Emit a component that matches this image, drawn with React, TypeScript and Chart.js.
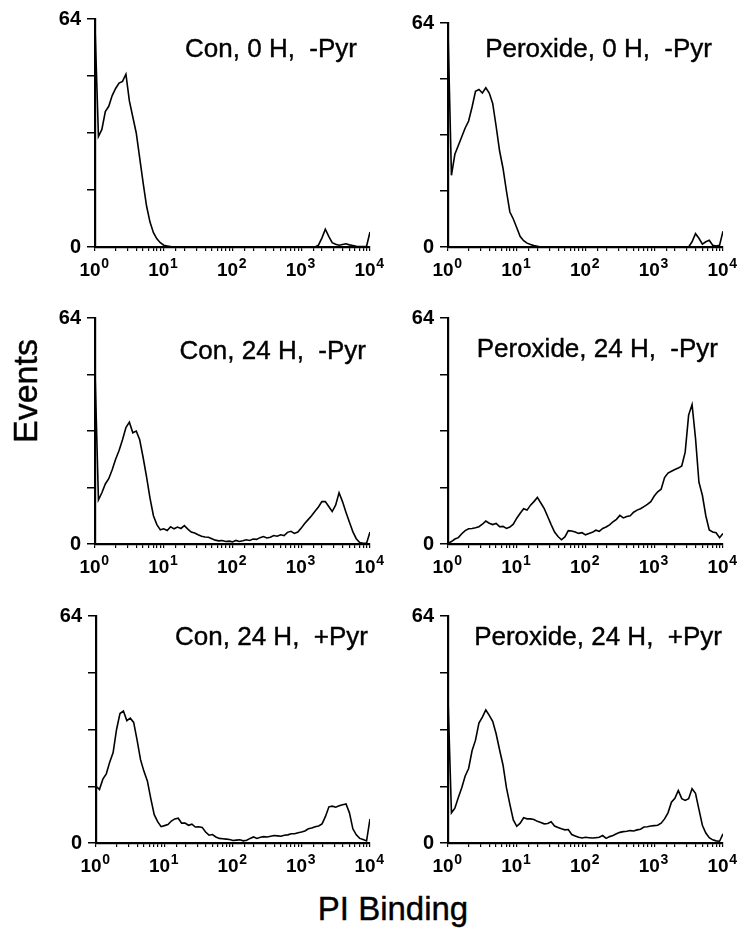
import React, { useEffect, useRef } from 'react';
import { Chart, registerables } from 'chart.js';

Chart.register(...registerables);

// PI fluorescence channels (log scale, 20 channels per decade)
const channels = [
  1, 1.122, 1.259, 1.413, 1.585, 1.778, 1.995, 2.239, 2.512, 2.818, 3.162, 3.548, 3.981, 4.467, 5.012, 5.623, 6.31, 7.079, 7.943, 8.913,
  10, 11.22, 12.59, 14.13, 15.85, 17.78, 19.95, 22.39, 25.12, 28.18, 31.62, 35.48, 39.81, 44.67, 50.12, 56.23, 63.1, 70.79, 79.43, 89.13,
  100, 112.2, 125.9, 141.3, 158.5, 177.8, 199.5, 223.9, 251.2, 281.8, 316.2, 354.8, 398.1, 446.7, 501.2, 562.3, 631, 707.9, 794.3, 891.3,
  1000, 1122, 1259, 1413, 1585, 1778, 1995, 2239, 2512, 2818, 3162, 3548, 3981, 4467, 5012, 5623, 6310, 7079, 7943, 8913,
  10000,
];

const xTickExponents = [0, 1, 2, 3, 4];
const yTickLabels = [0, 64];

const panelTitles = [
  'Con, 0 H,  -Pyr',
  'Peroxide, 0 H,  -Pyr',
  'Con, 24 H,  -Pyr',
  'Peroxide, 24 H,  -Pyr',
  'Con, 24 H,  +Pyr',
  'Peroxide, 24 H,  +Pyr',
];

const con0hMinusPyr = [
  62, 31, 33, 38, 39.5, 42.5, 44.5, 46, 46.5, 48.5, 41, 36.5, 32, 25, 18, 11.5, 7, 4, 2.3, 1.2,
  0.5, 0.3, 0.1, 0, 0, 0, 0, 0, 0, 0, 0, 0, 0, 0, 0, 0, 0, 0, 0, 0,
  0, 0, 0, 0, 0, 0, 0, 0, 0, 0, 0, 0, 0, 0, 0, 0, 0, 0, 0, 0,
  0, 0, 0, 0, 0, 0.5, 2.5, 5, 3, 1.2, 0.8, 0.5, 0.7, 0.9, 0.6, 0.4, 0.2, 0.1, 0.1, 0.2,
  4.2,
];

const perox0hMinusPyr = [
  62, 20.5, 26.5, 29, 31.5, 34, 36, 40, 44.5, 45, 44, 45.5, 44, 41, 34.5, 27.5, 22.5, 16, 10, 8,
  5.5, 3, 1.8, 1.1, 0.7, 0.4, 0.2, 0, 0, 0, 0, 0, 0, 0, 0, 0, 0, 0, 0, 0,
  0, 0, 0, 0, 0, 0, 0, 0, 0, 0, 0, 0, 0, 0, 0, 0, 0, 0, 0, 0,
  0, 0, 0, 0, 0, 0, 0, 0, 0, 0, 0, 1.5, 3.8, 2.5, 0.8, 1.5, 1.9, 0.5, 0.3, 0.5,
  4.5,
];

const con24hMinusPyr = [
  49, 12.5, 14.5, 17, 18.5, 21, 24, 26.5, 29.5, 33, 34.5, 31.5, 32, 29.5, 24.5, 19, 13, 8, 5.5, 4,
  4.3, 3.8, 4.9, 4.3, 4.8, 4.4, 5.2, 4.2, 3.4, 3.1, 2.6, 2.2, 2.0, 1.9, 1.5, 1.1, 0.9, 1.0, 0.7, 0.8,
  0.6, 1.0, 0.7, 0.9, 1.2, 1.0, 1.4, 1.3, 1.8, 2.1, 1.7, 1.9, 2.4, 2.2, 2.6, 2.4, 3.3, 3.6, 3.0, 3.4,
  4.5, 5.8, 6.9, 8.0, 9.3, 10.5, 12.0, 12.0, 10.6, 9.2, 11.0, 14.5, 12.0, 9.0, 6.2, 3.5, 1.5, 0.4, 0.2, 0.2,
  3.4,
];

const perox24hMinusPyr = [
  0.2, 0.7, 1.4, 1.8, 2.9, 3.8, 4.3, 4.4, 4.6, 4.9, 5.6, 6.5, 5.9, 5.5, 5.8, 4.9, 5.0, 4.4, 4.8, 5.6,
  7.3, 8.7, 10.0, 9.6, 11.0, 12.0, 13.2, 11.6, 10.0, 7.8, 5.5, 3.4, 2.1, 1.2, 2.0, 3.8, 3.7, 3.4, 3.0, 3.2,
  2.6, 3.0, 3.3, 3.9, 3.6, 4.4, 4.8, 5.4, 6.3, 7.0, 8.1, 7.4, 7.8, 8.0, 9.0, 9.6, 10.0, 10.6, 11.2, 12.0,
  13.6, 14.8, 15.5, 18.8, 20.1, 20.6, 21.1, 21.5, 22.1, 26, 36.5, 39.5, 30, 17.5, 13.8, 8, 4, 3.4, 3.2, 1.8,
  3,
];

const con24hPlusPyr = [
  16, 15.1, 18, 19.5, 22.8, 25.5, 32, 36.5, 37.2, 34.5, 35.2, 34.0, 29, 23.5, 20.2, 17.5, 12.5, 8, 6, 4.6,
  4.9, 5.2, 6.2, 6.8, 7.0, 5.6, 5.6, 5.0, 5.3, 4.5, 4.6, 4.4, 3.1, 2.2, 2.4, 1.7, 1.3, 1.2, 1.1, 1.0,
  0.7, 0.8, 0.9, 0.6, 0.8, 1.3, 1.7, 1.3, 1.6, 1.8, 1.7, 1.9, 2.1, 2.0, 1.9, 2.2, 2.3, 2.6, 2.6, 2.9,
  3.1, 3.4, 4.0, 4.2, 4.6, 4.8, 5.4, 7.5, 10.2, 10.4, 10.1, 10.5, 10.8, 11.0, 8.5, 4.0, 2.3, 1.3, 1.0, 0.6,
  6.8,
];

const perox24hPlusPyr = [
  41, 8.5, 9.8, 12.8, 15.6, 18.9, 21, 26, 29, 33.8, 35.5, 37.5, 36, 34.3, 30.8, 26.3, 22, 15.6, 10.9, 6.5,
  4.7, 5.6, 7.1, 6.8, 6.8, 6.6, 6.1, 5.8, 5.4, 5.5, 6.0, 4.8, 4.4, 4.0, 3.7, 3.8, 2.4, 2.0, 1.6, 1.4,
  1.6, 1.5, 1.4, 1.5, 1.6, 2.1, 1.3, 1.8, 2.1, 2.6, 3.0, 3.2, 3.3, 3.5, 3.4, 3.7, 3.9, 4.5, 4.6, 4.8,
  4.9, 5.0, 5.6, 6.8, 8.5, 11.5, 12.6, 14.8, 12.5, 12.0, 12.5, 15.3, 14.0, 9.5, 5.0, 2.8, 1.5, 0.9, 0.6, 0.5,
  2.6,
];

const panelValues = [
  con0hMinusPyr,
  perox0hMinusPyr,
  con24hMinusPyr,
  perox24hMinusPyr,
  con24hPlusPyr,
  perox24hPlusPyr,
];

const axisTitleY = 'Events';
const axisTitleX = 'PI Binding';

// layout (page pixels)
const panelLayout = [
  { x0: 95, x1: 370, top: 16, bottom: 247, titleRight: 357, titleBase: 57 },
  { x0: 448, x1: 723, top: 20, bottom: 247, titleRight: 712, titleBase: 57 },
  { x0: 95, x1: 370, top: 315, bottom: 544, titleRight: 366, titleBase: 359 },
  { x0: 448, x1: 723, top: 315, bottom: 544, titleRight: 718, titleBase: 357 },
  { x0: 96, x1: 370, top: 613, bottom: 843, titleRight: 368, titleBase: 645 },
  { x0: 448, x1: 723, top: 613, bottom: 843, titleRight: 722, titleBase: 645 },
];

const FONT = '"Liberation Sans", Arial, Helvetica, sans-serif';
const PAD_L = 60;
const PAD_R = 22;
const PAD_T = 15;
const PAD_B = 40;

function Panel({ index }: { index: number }) {
  const ref = useRef<HTMLCanvasElement | null>(null);
  const lay = panelLayout[index];
  const w = lay.x1 - lay.x0 + PAD_L + PAD_R;
  const h = lay.bottom - lay.top + PAD_T + PAD_B;

  useEffect(() => {
    if (!ref.current) return;
    const values = panelValues[index];
    const xLabelPlugin = {
      id: 'xPowerLabels',
      afterDraw(chart: any) {
        const { ctx, chartArea } = chart;
        const xs = chart.scales.x;
        ctx.save();
        ctx.fillStyle = '#000';
        ctx.textAlign = 'left';
        ctx.textBaseline = 'alphabetic';
        const base = chartArea.bottom + 29;
        xTickExponents.forEach((e) => {
          const px = xs.getPixelForValue(Math.pow(10, e));
          ctx.font = `bold 19px ${FONT}`;
          const bw = ctx.measureText('10').width;
          ctx.font = `bold 14px ${FONT}`;
          const sw = ctx.measureText(String(e)).width;
          const sx = px - (bw + sw) / 2 - 1;
          ctx.font = `bold 19px ${FONT}`;
          ctx.fillText('10', sx, base);
          ctx.font = `bold 14px ${FONT}`;
          ctx.fillText(String(e), sx + bw + 0.5, base - 8);
        });
        ctx.restore();
      },
    };

    const chart = new Chart(ref.current, {
      type: 'line',
      data: {
        datasets: [
          {
            data: channels.map((c, i) => ({ x: c, y: values[i] })),
            borderColor: '#000',
            borderWidth: 1.6,
            pointRadius: 0,
            tension: 0,
            fill: false,
          },
        ],
      },
      options: {
        responsive: false,
        animation: false,
        layout: { padding: { left: 0, right: PAD_R, top: PAD_T, bottom: 0 } },
        plugins: { legend: { display: false }, tooltip: { enabled: false } },
        scales: {
          x: {
            type: 'logarithmic',
            min: 1,
            max: 10000,
            afterFit: (s: any) => {
              s.height = PAD_B;
            },
            ticks: { display: false },
            grid: {
              display: true,
              drawOnChartArea: false,
              drawTicks: true,
              tickLength: 4,
              color: '#000',
              lineWidth: 1.2,
            },
            border: { display: true, color: '#000', width: 2.2 },
          },
          y: {
            type: 'linear',
            min: 0,
            max: 64,
            afterFit: (s: any) => {
              s.width = PAD_L;
            },
            ticks: {
              stepSize: 16,
              padding: 6,
              color: '#000',
              font: { family: FONT, size: 20, weight: 'bold' },
              callback: (v: any) => (yTickLabels.includes(Number(v)) ? String(v) : ''),
            },
            grid: {
              display: true,
              drawOnChartArea: false,
              drawTicks: true,
              tickLength: 8,
              color: '#000',
              lineWidth: 1.5,
            },
            border: { display: true, color: '#000', width: 2.2 },
          },
        },
      } as any,
      plugins: [xLabelPlugin],
    });
    return () => chart.destroy();
  }, [index]);

  return (
    <canvas
      ref={ref}
      width={w}
      height={h}
      style={{ position: 'absolute', left: lay.x0 - PAD_L, top: lay.top - PAD_T, width: w, height: h }}
    />
  );
}

export default function App() {
  return (
    <div
      style={{
        position: 'absolute',
        left: 0,
        top: 0,
        width: 742,
        height: 932,
        background: '#fff',
        fontFamily: FONT,
        color: '#000',
        overflow: 'hidden',
      }}
    >
      {panelLayout.map((lay, i) => (
        <Panel key={'p' + i} index={i} />
      ))}
      {panelLayout.map((lay, i) => (
        <div
          key={'t' + i}
          style={{
            position: 'absolute',
            left: lay.titleRight - 300,
            width: 300,
            top: lay.titleBase - 22,
            fontSize: 26,
            lineHeight: '26px',
            textAlign: 'right',
            whiteSpace: 'pre',
            WebkitTextStroke: '0.4px #000',
          }}
        >
          {panelTitles[i]}
        </div>
      ))}
      <div
        style={{
          position: 'absolute',
          left: 25 - 100,
          top: 391 - 20,
          width: 200,
          height: 40,
          lineHeight: '40px',
          fontSize: 34,
          textAlign: 'center',
          transform: 'rotate(-90deg)',
          transformOrigin: '50% 50%',
          WebkitTextStroke: '0.4px #000',
        }}
      >
        {axisTitleY}
      </div>
      <div
        style={{
          position: 'absolute',
          left: 293,
          width: 200,
          top: 892,
          fontSize: 33,
          lineHeight: '33px',
          textAlign: 'center',
          WebkitTextStroke: '0.4px #000',
        }}
      >
        {axisTitleX}
      </div>
    </div>
  );
}
